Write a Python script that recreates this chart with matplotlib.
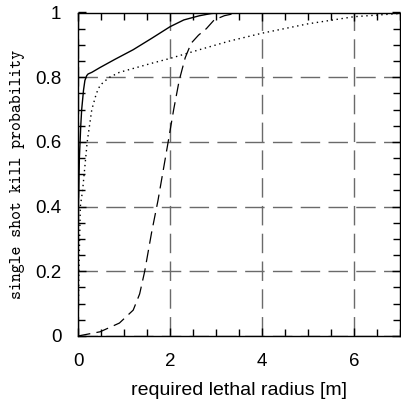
import matplotlib
matplotlib.use("Agg")
import matplotlib.pyplot as plt
from matplotlib.ticker import MultipleLocator, FuncFormatter

# curves: lethal radius [m] vs. kill probability
r_solid = [0.0, 0.005, 0.01, 0.03, 0.06, 0.08, 0.12, 0.15, 0.19, 0.22, 0.3, 0.48, 0.8, 1.2, 1.6,
           2.0, 2.3, 2.64, 2.9, 3.2, 7.0]
p_solid = [0.0, 0.2, 0.4, 0.55, 0.65, 0.7, 0.76, 0.79, 0.805, 0.81, 0.815, 0.83, 0.855, 0.885, 0.92,
           0.956, 0.977, 0.99, 0.997, 1.0, 1.0]

r_dot = [0.0, 0.01, 0.02, 0.05, 0.1, 0.2, 0.3, 0.4, 0.48, 0.6, 0.69, 0.9, 1.2, 1.6, 2.0, 2.64,
         3.3, 4.0, 5.0, 6.0, 7.0]
p_dot = [0.0, 0.1, 0.2, 0.4, 0.45, 0.6, 0.7, 0.75, 0.775, 0.79, 0.80, 0.815, 0.827, 0.843, 0.858,
         0.885, 0.912, 0.936, 0.965, 0.987, 0.997]

r_dash = [0.0, 0.48, 0.9, 1.2, 1.34, 1.45, 1.6, 1.74, 1.85, 1.96, 2.08, 2.2, 2.33, 2.46, 2.62,
          2.79, 2.96, 3.18, 3.5, 7.0]
p_dash = [0.0, 0.013, 0.04, 0.08, 0.13, 0.2, 0.32, 0.42, 0.51, 0.6, 0.7, 0.79, 0.86, 0.905, 0.93,
          0.95, 0.977, 0.99, 1.0, 1.0]

fig = plt.figure(figsize=(4.01, 4.03), dpi=100)
ax = fig.add_axes([78 / 401, 67 / 403, 322 / 401, 323.5 / 403])

ax.plot(r_solid, p_solid, color='black', lw=1.0, ls='-')
ax.plot(r_dot, p_dot, color='black', lw=1.0, ls=(0, (1, 2.6)))
ax.plot(r_dash, p_dash, color='black', lw=0.9, ls=(0, (10, 5)))

ax.set_xlim(0, 7)
ax.set_ylim(0, 1)
ax.xaxis.set_major_locator(MultipleLocator(2))
ax.xaxis.set_minor_locator(MultipleLocator(0.5))
ax.yaxis.set_major_locator(MultipleLocator(0.2))
ax.yaxis.set_minor_locator(MultipleLocator(0.05))
ax.yaxis.set_major_formatter(FuncFormatter(lambda v, p: f'{v:g}'))
ax.xaxis.set_major_formatter(FuncFormatter(lambda v, p: f'{v:g}'))

ax.grid(True, which='major', color='#6a6a6a', lw=1.0, ls=(0, (14, 6)))
ax.tick_params(which='both', direction='in', top=True, right=True, width=1.0)
ax.tick_params(which='major', length=6, pad=12, labelsize=13.5)
ax.tick_params(which='minor', length=5)
for lab in ax.get_xticklabels() + ax.get_yticklabels():
    lab.set_fontfamily('Liberation Sans')
for s in ax.spines.values():
    s.set_linewidth(1.0)

ax.set_xlabel('required lethal radius [m]', fontsize=14, fontfamily='Liberation Sans', labelpad=9)
ax.set_ylabel('single shot kill probability', fontsize=12.2, fontfamily='cmtt10', labelpad=7)

fig.savefig('out.png', dpi=100)
